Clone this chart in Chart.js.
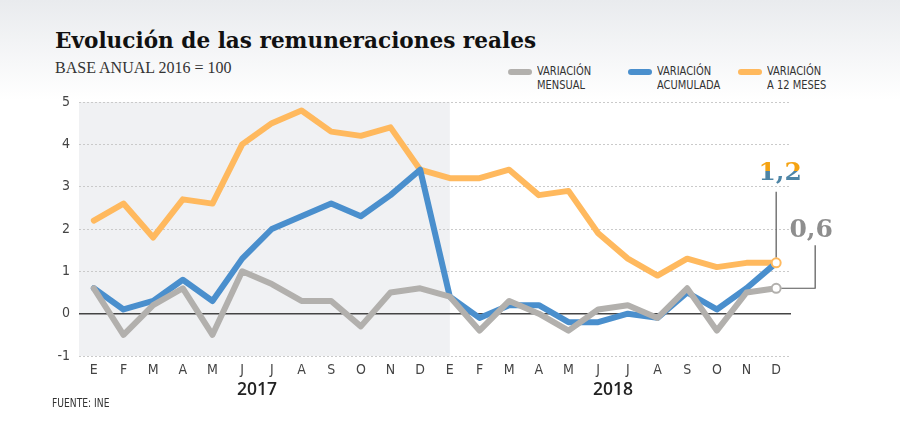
<!DOCTYPE html>
<html>
<head>
<meta charset="utf-8">
<script src="https://cdn.jsdelivr.net/npm/chart.js@4.4.0/dist/chart.umd.min.js"></script>
<style>
    body {
        margin: 0;
        width: 900px;
        height: 425px;
        overflow: hidden;
        position: relative;
        background: linear-gradient(#e9ebee 0, #ffffff 100px);
        font-family: "Liberation Sans Narrow", "DejaVu Sans Condensed", sans-serif;
        color: #333;
    }
    #chart { position: absolute; left: 0; top: 0; }
    .title { position: absolute; left: 55px; top: 28px; font: bold 21.6px "DejaVu Serif", serif; color: #111; white-space: nowrap; }
    .subtitle { position: absolute; left: 55px; top: 59px; font: 16px "Liberation Serif", serif; color: #333; white-space: nowrap; }
    .legend { position: absolute; top: 64px; font-size: 12.5px; line-height: 14px; color: #333; white-space: nowrap; }
    .legend span { display: inline-block; transform: scaleX(0.88); transform-origin: left; }
    .legend i { position: absolute; left: -29px; top: 5px; width: 24px; height: 6px; border-radius: 3px; }
    .source { position: absolute; left: 52px; top: 396px; font-size: 12px; color: #333; transform: scaleX(0.85); transform-origin: left; }
    .year { position: absolute; font: 600 17.5px "Open Sans", sans-serif; color: #222; transform: translateX(-50%); }
    .lbl { position: absolute; font: bold 25px "DejaVu Serif", serif; line-height: 1; transform: translateX(-50%); white-space: nowrap; }
    #lbl12 { background: linear-gradient(#f5a312 47%, #4e85a6 47%); -webkit-background-clip: text; background-clip: text; color: transparent; }
    #lbl06 { color: #8e8e8e; }
</style>
</head>
<body>
<div class="title">Evolución de las remuneraciones reales</div>
<div class="subtitle">BASE ANUAL 2016 = 100</div>
<div class="legend" style="left:537px"><i style="background:#b2b0ad"></i><span>VARIACIÓN<br>MENSUAL</span></div>
<div class="legend" style="left:657px"><i style="background:#4a8fcd"></i><span>VARIACIÓN<br>ACUMULADA</span></div>
<div class="legend" style="left:767px"><i style="background:#ffb95e"></i><span>VARIACIÓN<br>A 12 MESES</span></div>
<canvas id="chart" width="900" height="425"></canvas>
<div class="year" id="year0"></div>
<div class="year" id="year1"></div>
<div class="lbl" id="lbl12">1,2</div>
<div class="lbl" id="lbl06">0,6</div>
<div class="source">FUENTE: INE</div>
<script>
// Data
const months = ['E', 'F', 'M', 'A', 'M', 'J', 'J', 'A', 'S', 'O', 'N', 'D'];
const categories = months.concat(months);
const years = ['2017', '2018'];
const mensual = [0.6, -0.5, 0.2, 0.6, -0.5, 1.0, 0.7, 0.3, 0.3, -0.3, 0.5, 0.6,
                 0.4, -0.4, 0.3, 0.0, -0.4, 0.1, 0.2, -0.1, 0.6, -0.4, 0.5, 0.6];
const acumulada = [0.6, 0.1, 0.3, 0.8, 0.3, 1.3, 2.0, 2.3, 2.6, 2.3, 2.8, 3.4,
                   0.4, -0.1, 0.2, 0.2, -0.2, -0.2, 0.0, -0.1, 0.5, 0.1, 0.6, 1.2];
const doceMeses = [2.2, 2.6, 1.8, 2.7, 2.6, 4.0, 4.5, 4.8, 4.3, 4.2, 4.4, 3.4,
                   3.2, 3.2, 3.4, 2.8, 2.9, 1.9, 1.3, 0.9, 1.3, 1.1, 1.2, 1.2];
const yTicks = [-1, 0, 1, 2, 3, 4, 5];

const GRAY = '#b2b0ad';
const BLUE = '#4a8fcd';
const ORANGE = '#ffb95e';

// place an html label on the page
function place(id, left, top) {
    const el = document.getElementById(id);
    el.style.left = left + 'px';
    el.style.top = top + 'px';
}

const decorPlugin = {
    id: 'decor',
    beforeDraw(chart) {
        // shaded 2017 band
        const { ctx, chartArea: a, scales: { x } } = chart;
        ctx.save();
        ctx.fillStyle = '#f0f1f3';
        ctx.fillRect(a.left, a.top, x.getPixelForValue(months.length) - a.left, a.bottom - a.top);
        ctx.restore();
    },
    afterDatasetsDraw(chart) {
        const ctx = chart.ctx;
        const last = categories.length - 1;
        const pG = chart.getDatasetMeta(0).data[last];
        const pO = chart.getDatasetMeta(2).data[last];

        // leader lines
        ctx.save();
        ctx.strokeStyle = '#555';
        ctx.lineWidth = 1.2;
        ctx.beginPath();
        ctx.moveTo(pO.x, pO.y - 5);
        ctx.lineTo(pO.x, pO.y - 71);
        ctx.moveTo(pG.x + 5, pG.y);
        ctx.lineTo(pG.x + 39, pG.y);
        ctx.lineTo(pG.x + 39, pG.y - 43);
        ctx.stroke();

        // end markers
        [[pO, ORANGE], [pG, GRAY]].forEach(([p, c]) => {
            ctx.beginPath();
            ctx.arc(p.x, p.y, 4.5, 0, Math.PI * 2);
            ctx.fillStyle = '#fff';
            ctx.fill();
            ctx.lineWidth = 2;
            ctx.strokeStyle = c;
            ctx.stroke();
        });
        ctx.restore();

        place('lbl12', pO.x + 4, pO.y - 104);
        place('lbl06', pG.x + 35, pG.y - 72);

        // year labels centred under each group of months
        const x = chart.scales.x;
        years.forEach((y, i) => {
            const el = document.getElementById('year' + i);
            el.textContent = y;
            const mid = (x.getPixelForValue(i * 12 + 5) + x.getPixelForValue(i * 12 + 6)) / 2;
            place('year' + i, mid, chart.chartArea.bottom + 20);
        });
    }
};

function series(label, data, color) {
    return {
        label: label,
        data: data,
        borderColor: color,
        backgroundColor: color,
        borderWidth: 6,
        borderJoinStyle: 'round',
        borderCapStyle: 'round',
        pointRadius: 0,
        tension: 0,
        fill: false
    };
}

const ctx = document.getElementById('chart').getContext('2d');
const chart = new Chart(ctx, {
    type: 'line',
    data: {
        labels: categories,
        datasets: [
            series('Variación mensual', mensual, GRAY),
            series('Variación acumulada', acumulada, BLUE),
            series('Variación a 12 meses', doceMeses, ORANGE)
        ]
    },
    options: {
        responsive: false,
        animation: false,
        layout: { padding: { left: 0, right: 109, top: 102, bottom: 43 } },
        plugins: {
            legend: { display: false },
            tooltip: { enabled: false }
        },
        scales: {
            x: {
                offset: true,
                grid: { display: false, drawTicks: false },
                border: { display: false },
                ticks: {
                    autoSkip: false,
                    maxRotation: 0,
                    padding: 6,
                    color: '#444',
                    font: { family: '"Liberation Sans Narrow", "DejaVu Sans Condensed", sans-serif', size: 14 }
                },
                afterFit(scale) { scale.height = 26; }
            },
            y: {
                min: yTicks[0],
                max: yTicks[yTicks.length - 1],
                grid: {
                    drawTicks: false,
                    color: c => (c.tick && c.tick.value === 0) ? '#444' : '#cacaca',
                    lineWidth: c => (c.tick && c.tick.value === 0) ? 1.5 : 1
                },
                border: {
                    display: false,
                    dash: c => (c.tick && c.tick.value === 0) ? [] : [2, 2]
                },
                ticks: {
                    stepSize: 1,
                    padding: 9,
                    color: '#444',
                    font: { family: '"Liberation Sans Narrow", "DejaVu Sans Condensed", sans-serif', size: 14 }
                },
                afterFit(scale) { scale.width = 79; }
            }
        }
    },
    plugins: [decorPlugin]
});
</script>
</body>
</html>
